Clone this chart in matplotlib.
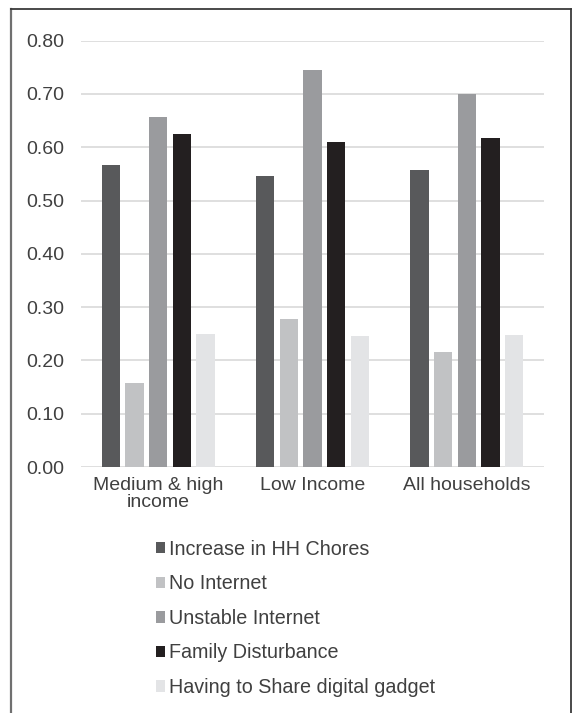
import numpy as np
import matplotlib.pyplot as plt
from matplotlib.lines import Line2D

plt.rcParams['font.family'] = ['Liberation Sans', 'DejaVu Sans']

groups = ['Medium & high\nincome', 'Low Income', 'All households']
series = ['Increase in HH Chores', 'No Internet', 'Unstable Internet',
          'Family Disturbance', 'Having to Share digital gadget']
chores = [0.567, 0.546, 0.557]
no_internet = [0.157, 0.277, 0.215]
unstable = [0.657, 0.745, 0.699]
disturbance = [0.625, 0.610, 0.618]
share_gadget = [0.249, 0.245, 0.247]
colors = ['#58595b', '#c1c2c4', '#9a9b9e', '#231f20', '#e3e4e6']
yticks = [0.0, 0.1, 0.2, 0.3, 0.4, 0.5, 0.6, 0.7, 0.8]

values = [chores, no_internet, unstable, disturbance, share_gadget]
text_col = '#404040'

fig = plt.figure(figsize=(5.72, 7.13), dpi=100)
ax = fig.add_axes([0.1416, 0.345, 0.8094, 0.598])

x = np.arange(len(groups))
step = 0.1536
width = 0.118
for i, (vals, name) in enumerate(zip(values, series)):
    ax.bar(x + (i - 2) * step, vals, width, color=colors[i], label=name, zorder=3)

ax.set_xlim(-0.5, 2.5)
ax.set_ylim(0, 0.8)
ax.set_yticks(yticks)
ax.set_yticklabels([f'{v:.2f}' for v in yticks])
ax.set_xticks(x)
ax.set_xticklabels(groups, linespacing=1.05)
ax.tick_params(length=0, labelsize=14, colors=text_col)
ax.tick_params(axis='y', pad=12)
ax.tick_params(axis='x', pad=7)
ax.grid(axis='y', color='#dcdcdc', lw=1.3, zorder=0)
ax.set_axisbelow(True)
for s in ax.spines.values():
    s.set_visible(False)

leg = fig.legend(loc='upper left', bbox_to_anchor=(0.272, 0.243), frameon=False,
                 fontsize=14.2, handlelength=0.5, handleheight=0.5,
                 handletextpad=0.2, labelspacing=0.79, borderaxespad=0,
                 borderpad=0)
for t in leg.get_texts():
    t.set_color(text_col)

# outer frame, open at the bottom
fc = '#3a3a3a'
fig.add_artist(Line2D([11/572, 11/572], [0, 1 - 9/713], color='#707070', lw=1.6))
fig.add_artist(Line2D([11/572, 571/572], [1 - 9/713, 1 - 9/713], color=fc, lw=1.3))
fig.add_artist(Line2D([571/572, 571/572], [0, 1 - 9/713], color=fc, lw=1.3))

fig.savefig('out.png', dpi=100)
